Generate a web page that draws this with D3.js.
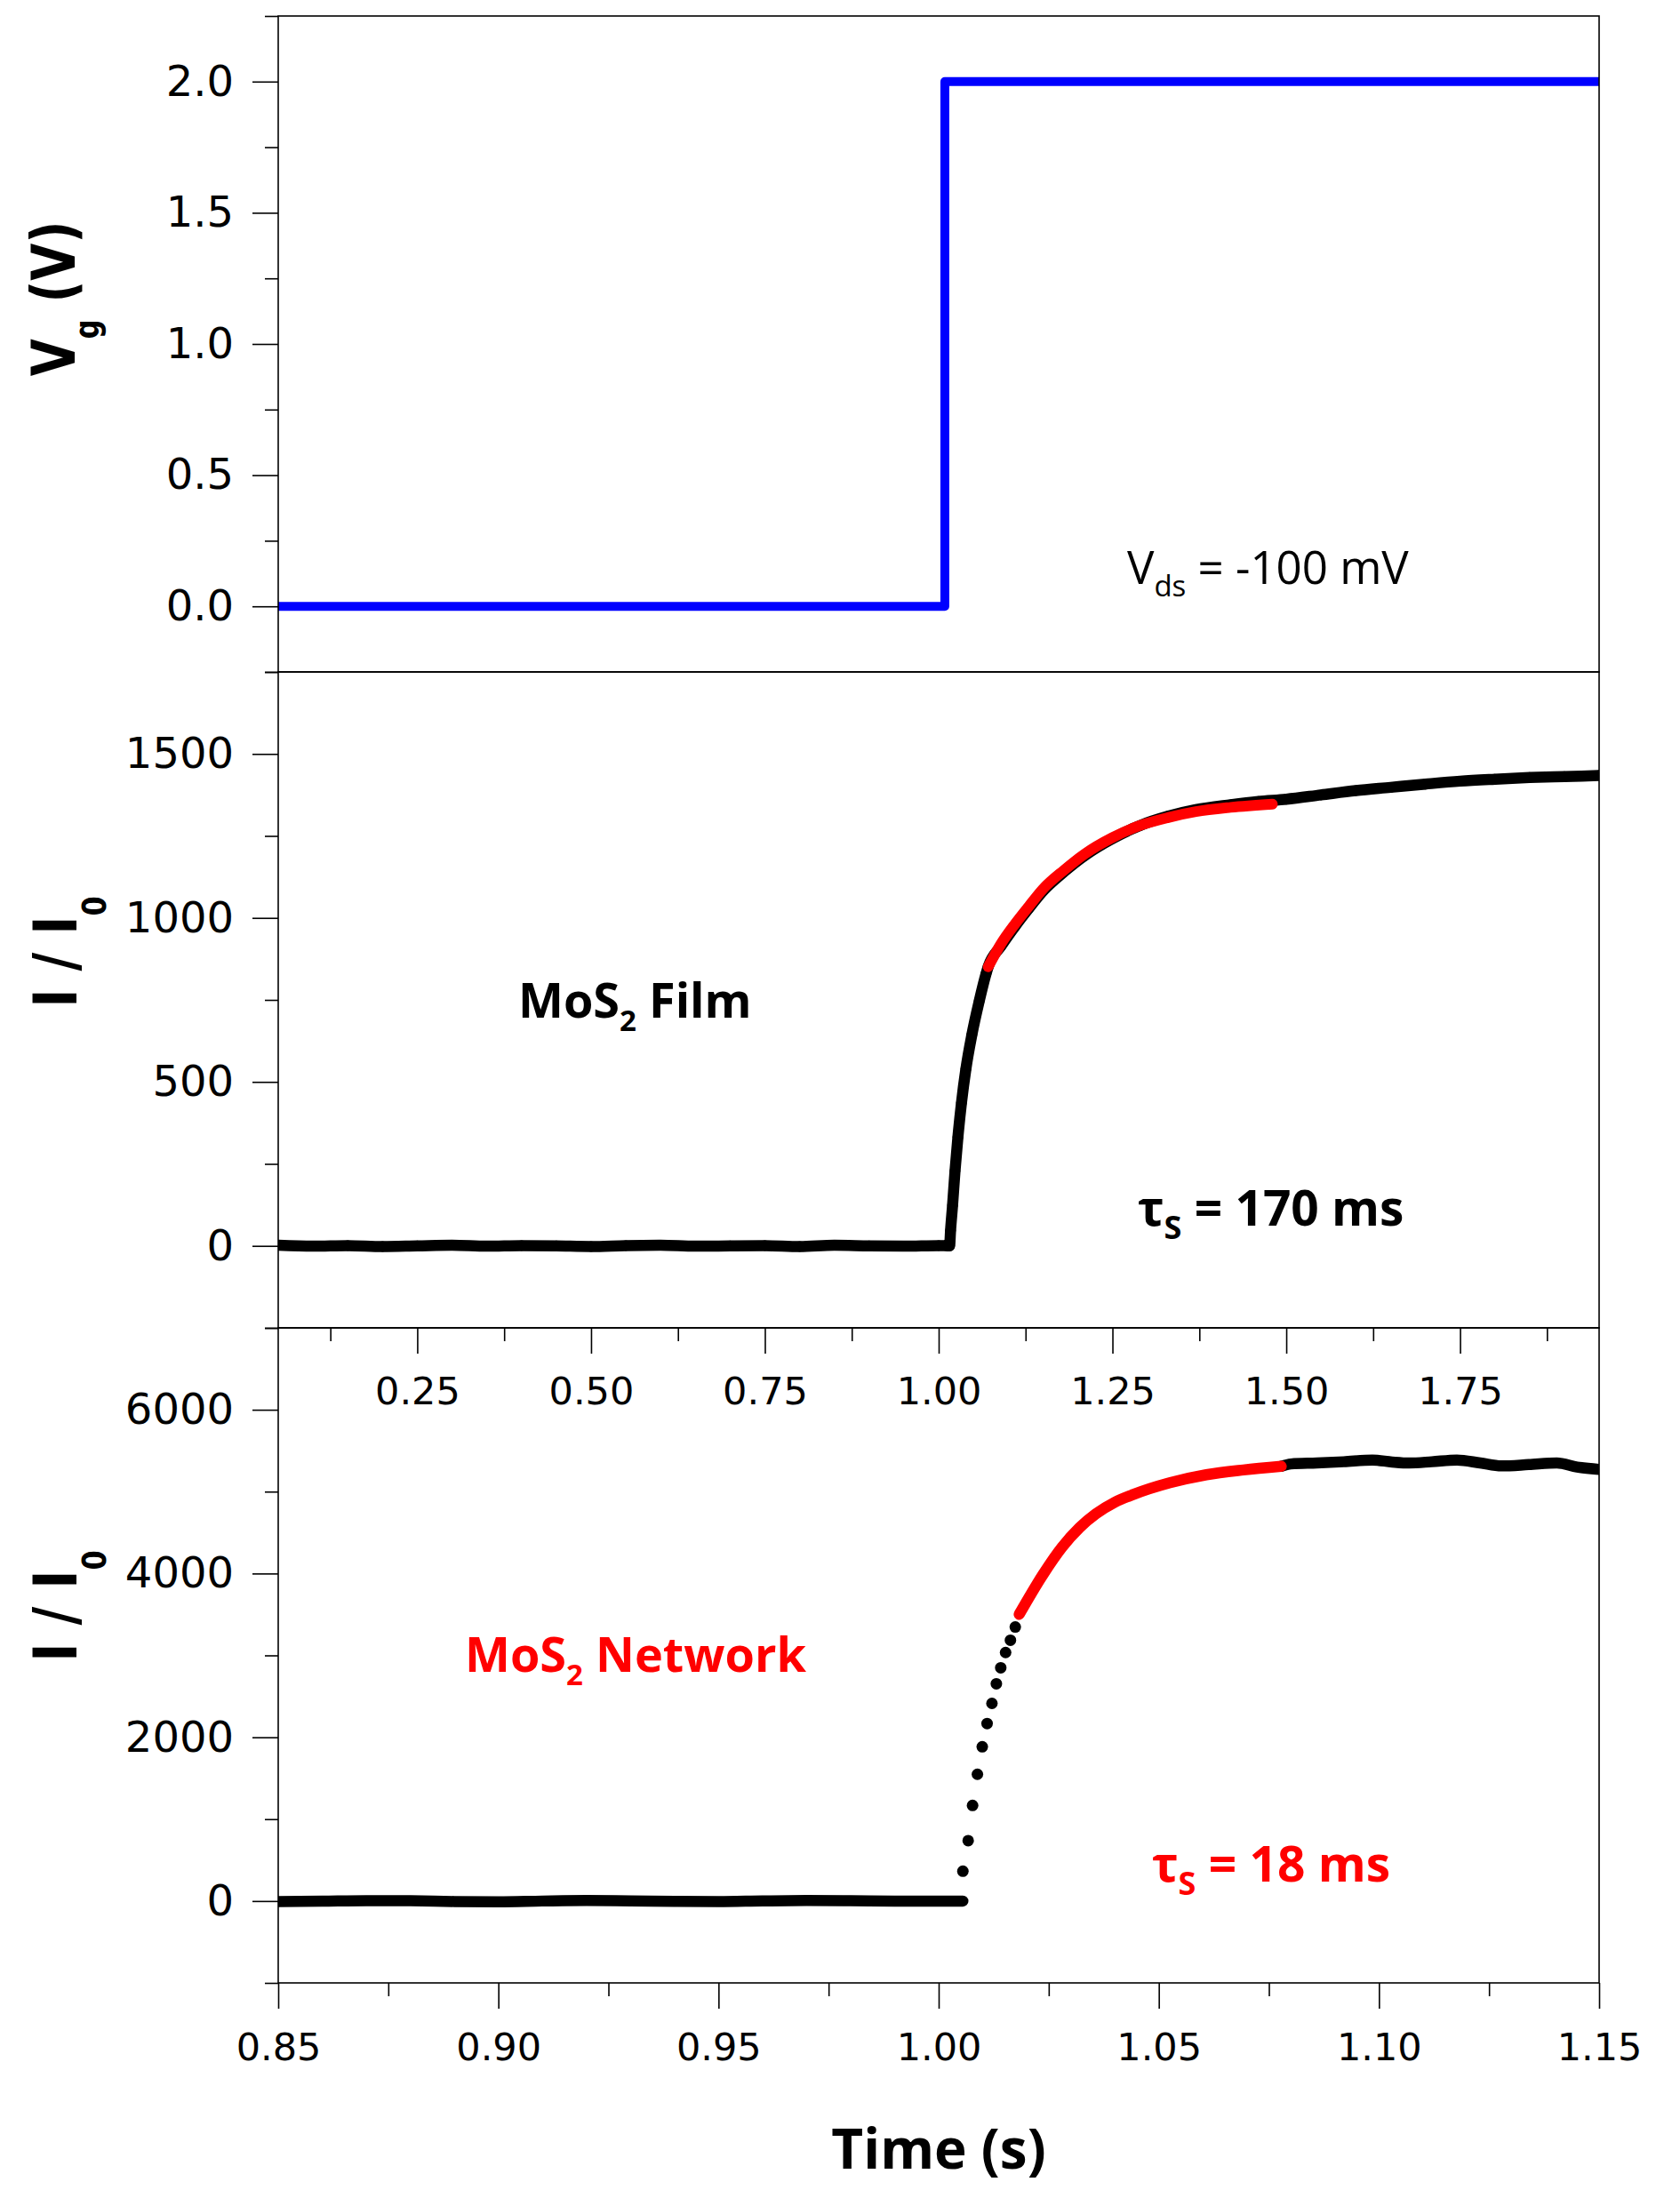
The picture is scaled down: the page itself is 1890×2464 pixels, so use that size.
<!DOCTYPE html>
<html>
<head>
<meta charset="UTF-8">
<title>MoS2 gate switching</title>
<style>
  body { margin: 0; background: #fff; }
  .tick text { font-family: "DejaVu Sans", Verdana, sans-serif; fill: #000; }
  .axis line { stroke: #000; stroke-width: 1.6px; }
  text { white-space: pre; }
</style>
</head>
<body>
<div id="container"></div>
<script src="https://d3js.org/d3.v7.min.js"></script>
<script>

// ---------------- data ----------------

// gate voltage step
var stepTime = [0.85, 1.0014, 1.0014, 1.15];
var stepVg = [0, 0, 2, 2];

// MoS2 film, black data (slow time axis)
var filmTime = [0.05, 0.10, 0.15, 0.20, 0.25, 0.30, 0.35, 0.40, 0.45, 0.50, 0.55, 0.60, 0.65, 0.70, 0.75, 0.80, 0.85, 0.90, 0.95, 1.00,
  1.0157, 1.0171, 1.0200, 1.0235, 1.0277, 1.0328, 1.0392, 1.0477, 1.0584, 1.0682, 1.0712,
  1.09, 1.11, 1.13, 1.15, 1.18, 1.21, 1.25, 1.29, 1.33, 1.37, 1.42, 1.46, 1.50, 1.55, 1.60, 1.65, 1.70, 1.75, 1.80, 1.85, 1.90, 1.95];
var filmRatio = [2, -1, 1, -2, 0, 2, -1, 1, 0, -2, 1, 2, -1, 0, 1, -2, 2, 0, -1, 1,
  0, 47, 124, 228, 332, 436, 540, 643, 747, 830, 851,
  915, 975, 1030, 1082, 1140, 1190, 1242, 1282, 1310, 1330, 1345, 1355, 1362, 1375, 1388, 1398, 1408, 1417, 1423, 1428, 1431, 1434];

// MoS2 film, red fit
var filmFitTime = [1.0712, 1.09, 1.11, 1.13, 1.15, 1.18, 1.21, 1.25, 1.29, 1.33, 1.37, 1.42, 1.48];
var filmFitRatio = [851, 922, 982, 1036, 1088, 1145, 1195, 1245, 1282, 1306, 1324, 1337, 1347];

// MoS2 network, black data (fast time axis)
var netBaseTime = [0.85, 0.86, 0.87, 0.88, 0.89, 0.90, 0.91, 0.92, 0.93, 0.94, 0.95, 0.96, 0.97, 0.98, 0.99, 1.00, 1.0055];
var netBaseRatio = [-8, -2, 5, 3, -6, -9, 0, 6, 2, -4, -7, 1, 6, 3, -2, 0, 0];

var netRiseTime = [1.0055, 1.0067, 1.0077, 1.0088, 1.0099, 1.0110, 1.0121, 1.0131, 1.0141, 1.0152, 1.0163, 1.0174];
var netRiseRatio = [364, 738, 1167, 1548, 1884, 2168, 2414, 2654, 2849, 3035, 3185, 3346];

var netTopTime = [1.0778, 1.0800, 1.0859, 1.0920, 1.0985, 1.1030, 1.1069, 1.1120, 1.1177, 1.1230, 1.1278, 1.1340, 1.1404, 1.1450, 1.1500];
var netTopRatio = [5310, 5338, 5350, 5365, 5386, 5362, 5350, 5365, 5386, 5350, 5314, 5330, 5350, 5300, 5271];

// MoS2 network, red fit
var netFitTime = [1.0183, 1.0237, 1.0280, 1.0320, 1.0357, 1.0400, 1.0441, 1.0525, 1.0608, 1.0692, 1.0778];
var netFitRatio = [3502, 3988, 4320, 4560, 4728, 4870, 4963, 5108, 5206, 5265, 5310];

// ticks
var vgTicks = [0, 0.5, 1, 1.5, 2];
var vgMinor = [-0.25, 0.25, 0.75, 1.25, 1.75, 2.25];
var filmTicks = [0, 500, 1000, 1500];
var filmMinor = [-250, 250, 750, 1250, 1750];
var netTicks = [0, 2000, 4000, 6000];
var netMinor = [-1000, 1000, 3000, 5000, 7000];
var slowTicks = [0.25, 0.50, 0.75, 1.00, 1.25, 1.50, 1.75];
var slowMinor = [0.125, 0.375, 0.625, 0.875, 1.125, 1.375, 1.625, 1.875];
var fastTicks = [0.85, 0.90, 0.95, 1.00, 1.05, 1.10, 1.15];
var fastMinor = [0.875, 0.925, 0.975, 1.025, 1.075, 1.125];

// ---------------- layout ----------------
var W = 1890, H = 2464;
var L = 313, R = 1799;
var pVg = [18, 756], pFilm = [756, 1494], pNet = [1494, 2231];

var svg = d3.select("#container").append("svg")
  .attr("width", W).attr("height", H);
svg.append("rect").attr("width", W).attr("height", H).attr("fill", "#fff");

var xFast = d3.scaleLinear().domain([0.85, 1.15]).range([L, R]);
var xSlow = d3.scaleLinear().domain([0.05, 1.95]).range([L, R]);
var yVg = d3.scaleLinear().domain([-0.25, 2.25]).range([pVg[1], pVg[0]]);
var yFilm = d3.scaleLinear().domain([-250, 1750]).range([pFilm[1], pFilm[0]]);
var yNet = d3.scaleLinear().domain([-1000, 7000]).range([pNet[1], pNet[0]]);

// clip each panel
var defs = svg.append("defs");
function clip(id, p) {
  defs.append("clipPath").attr("id", id).append("rect")
    .attr("x", L).attr("y", p[0]).attr("width", R - L).attr("height", p[1] - p[0]);
  return svg.append("g").attr("clip-path", "url(#" + id + ")");
}
var gVg = clip("cVg", pVg), gFilm = clip("cFilm", pFilm), gNet = clip("cNet", pNet);

function trace(g, xs, ys, x, y, color, width, curve) {
  g.append("path").datum(d3.zip(xs, ys))
    .attr("d", d3.line().x(function(d) { return x(d[0]); }).y(function(d) { return y(d[1]); }).curve(curve))
    .attr("fill", "none").attr("stroke", color).attr("stroke-width", width)
    .attr("stroke-linecap", "round").attr("stroke-linejoin", "round");
}
function dots(g, xs, ys, x, y, r) {
  g.selectAll(null).data(d3.zip(xs, ys)).enter().append("circle")
    .attr("cx", function(d) { return x(d[0]); })
    .attr("cy", function(d) { return y(d[1]); })
    .attr("r", r).attr("fill", "#000");
}

// top: gate step
trace(gVg, stepTime, stepVg, xFast, yVg, "#0000ff", 10, d3.curveLinear);

// middle: film
trace(gFilm, filmTime, filmRatio, xSlow, yFilm, "#000", 12.5, d3.curveMonotoneX);
dots(gFilm, filmTime, filmRatio, xSlow, yFilm, 6);
trace(gFilm, filmFitTime, filmFitRatio, xSlow, yFilm, "#ff0000", 12, d3.curveMonotoneX);

// bottom: network
trace(gNet, netBaseTime, netBaseRatio, xFast, yNet, "#000", 12.5, d3.curveMonotoneX);
trace(gNet, netTopTime, netTopRatio, xFast, yNet, "#000", 12.5, d3.curveMonotoneX);
dots(gNet, netRiseTime, netRiseRatio, xFast, yNet, 6.5);
trace(gNet, netFitTime, netFitRatio, xFast, yNet, "#ff0000", 12.5, d3.curveMonotoneX);

// ---------------- axes ----------------
function yAxis(scale, major, minor, fmt) {
  var g = svg.append("g").attr("class", "axis").attr("transform", "translate(" + L + ",0)");
  g.call(d3.axisLeft(scale).tickValues(major).tickSize(29).tickPadding(21).tickFormat(d3.format(fmt)));
  g.append("g").call(d3.axisLeft(scale).tickValues(minor).tickSize(15).tickFormat(""));
  g.selectAll(".domain").remove();
  g.selectAll("text").style("font-size", "48px");
}
function xAxis(scale, yPos, major, minor, fmt, pad) {
  var g = svg.append("g").attr("class", "axis").attr("transform", "translate(0," + yPos + ")");
  g.call(d3.axisBottom(scale).tickValues(major).tickSize(29).tickPadding(pad).tickFormat(d3.format(fmt)));
  g.append("g").call(d3.axisBottom(scale).tickValues(minor).tickSize(15).tickFormat(""));
  g.selectAll(".domain").remove();
  g.selectAll("text").style("font-size", "43px");
}
yAxis(yVg, vgTicks, vgMinor, ".1f");
yAxis(yFilm, filmTicks, filmMinor, "d");
yAxis(yNet, netTicks, netMinor, "d");
xAxis(xSlow, pFilm[1], slowTicks, slowMinor, ".2f", 26);
xAxis(xFast, pNet[1], fastTicks, fastMinor, ".2f", 27);

// panel frames
[pVg, pFilm, pNet].forEach(function(p) {
  svg.append("rect").attr("x", L).attr("y", p[0])
    .attr("width", R - L).attr("height", p[1] - p[0])
    .attr("fill", "none").attr("stroke", "#000").attr("stroke-width", 1.6);
});

// ---------------- labels ----------------
// axis titles: tall bold face, squeezed along the text direction
function yTitle(x, y, main, sub, rest, shift, squeeze) {
  var t = svg.append("text")
    .attr("transform", "translate(" + x + "," + y + ") rotate(-90) scale(" + squeeze + ",1)")
    .attr("text-anchor", "middle")
    .style("font-family", "'DejaVu Sans', Verdana, sans-serif")
    .style("font-weight", "bold").style("font-size", "68px");
  t.append("tspan").text(main);
  t.append("tspan").attr("dy", shift).style("font-size", "38px").text(sub);
  if (rest) t.append("tspan").attr("dy", -shift).text(rest);
}
yTitle(84, 336, "V", "g", " (V)", 27, 0.8);
yTitle(86, 1071, "I / I", "0", null, 33, 0.84);
yTitle(86, 1807, "I / I", "0", null, 33, 0.84);

function note(x, y, parts, size, weight, color, anchor) {
  var t = svg.append("text").attr("x", x).attr("y", y)
    .attr("text-anchor", anchor || "start")
    .style("font-family", "'Open Sans', 'Noto Sans', sans-serif")
    .style("font-weight", weight).style("font-size", size + "px")
    .attr("fill", color);
  var down = 0;
  parts.forEach(function(p) {
    var s = t.append("tspan").text(p[0]);
    var want = p[1] ? p[1] : 0;
    if (want !== down) { s.attr("dy", want - down); down = want; }
    if (p[2]) s.style("font-size", p[2] + "px");
  });
}
note(1268, 657, [["V"], ["ds", 14, 33], [" = -100 mV"]], 51, "normal", "#000");
note(583, 1145, [["MoS"], ["2", 15, 33], [" Film"]], 54, "bold", "#000");
note(1280, 1379, [["\u03c4"], ["S", 15, 36], [" = 170 ms"]], 55, "bold", "#000");
note(523, 1881, [["MoS"], ["2", 15, 33], [" Network"]], 54, "bold", "#ff0000");
note(1296, 2117, [["\u03c4"], ["S", 15, 36], [" = 18 ms"]], 55, "bold", "#ff0000");
note(1056, 2440, [["Time (s)"]], 62, "bold", "#000", "middle");

</script>
</body>
</html>
